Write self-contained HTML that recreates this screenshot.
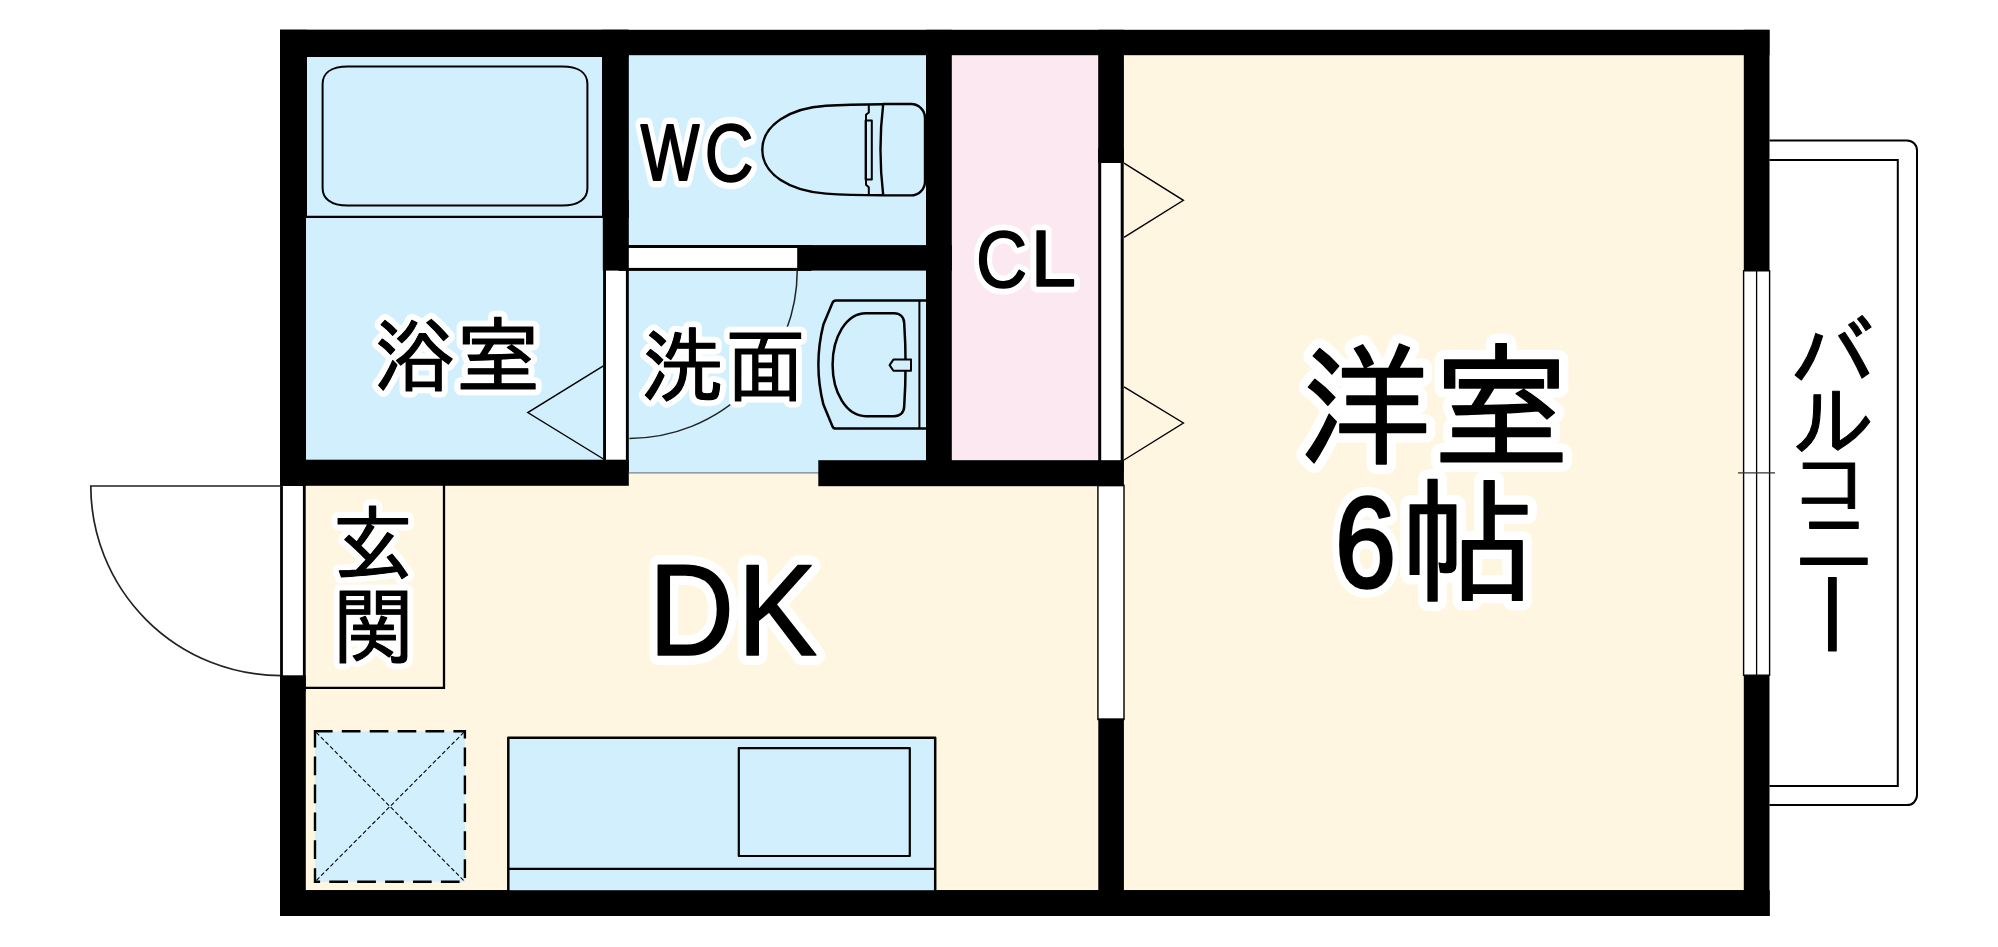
<!DOCTYPE html>
<html lang="ja">
<head>
<meta charset="utf-8">
<title>間取り図</title>
<style>
html,body{margin:0;padding:0;background:#fff;}
body{width:1998px;height:947px;overflow:hidden;}
svg{display:block;}
.t{font-family:"Liberation Sans","IPAGothic",sans-serif;fill:#000;stroke:#fff;stroke-linejoin:round;stroke-linecap:round;paint-order:stroke fill;}
.b{font-family:"Liberation Sans","IPAGothic",sans-serif;fill:#000;stroke:#000;stroke-linejoin:round;}
</style>
</head>
<body>
<svg width="1998" height="947" viewBox="0 0 1998 947">
<rect x="0" y="0" width="1998" height="947" fill="#ffffff"/>

<!-- floors -->
<g id="floors">
  <rect x="300" y="473" width="810" height="425" fill="#fff6e2"/>
  <rect x="1110" y="50" width="640" height="848" fill="#fff6e2"/>
  <rect x="300" y="50" width="310" height="420" fill="#d1effc"/>
  <rect x="620" y="50" width="310" height="423" fill="#d1effc"/>
  <rect x="945" y="50" width="160" height="420" fill="#fbe8f0"/>
  <rect x="628.8" y="472.3" width="190" height="1.2" fill="#6f8088"/>
</g>

<!-- doors / windows -->
<g id="doors" stroke="#000" fill="none">
  <!-- entrance door -->
  <rect x="281.5" y="470" width="22.8" height="220" fill="#fff" stroke-width="2.8"/>
  <path d="M283 486 H90.8 A190.2 189.6 0 0 0 281 675.6" stroke="#222" stroke-width="1.7"/>
  <!-- genkan outline -->
  <path d="M300 687.8 H444 V480" stroke-width="2.3"/>
  <!-- bath door -->
  <rect x="604.55" y="260" width="22.8" height="210" fill="#fff" stroke-width="2.9"/>
  <path d="M603.4 365.8 L527.8 412.6 L603.4 459" stroke-width="1.4"/>
  <!-- WC door -->
  <rect x="620" y="246.5" width="190" height="22.9" fill="#fff" stroke-width="3"/>
  <path d="M797.2 268 A168 168 0 0 1 629.4 438.4" stroke="#222" stroke-width="1.5"/>
  <!-- CL door -->
  <rect x="1099.7" y="150" width="22.5" height="320" fill="#fff" stroke-width="3"/>
  <path d="M1124 163.2 L1183.4 200.3 L1124 237.4" stroke-width="1.4"/>
  <path d="M1124 386.8 L1183.4 423 L1124 460" stroke-width="1.4"/>
  <!-- sliding door DK / room -->
  <rect x="1097.9" y="485.4" width="26.1" height="234" fill="#fff" stroke="#1c1c1c" stroke-width="1.6"/>
  <!-- window -->
  <rect x="1743.6" y="270.8" width="26" height="404.4" fill="#fff" stroke-width="1.4"/>
  <path d="M1756.6 270.8 V675.2" stroke-width="1.3"/>
  <path d="M1738 472.9 H1775" stroke="#333" stroke-width="1.1"/>
  <!-- balcony -->
  <path d="M1769.5 140.4 H1907 A10 10 0 0 1 1917 150.4 V795.1 A10 10 0 0 1 1907 805.1 H1769.5" stroke-width="2"/>
  <path d="M1769.5 159.9 H1897.8 V786.1 H1769.5" stroke-width="2"/>
</g>

<!-- walls -->
<g id="walls" fill="#000">
  <rect x="280" y="29.8" width="1489.5" height="25.4"/>
  <rect x="280" y="29.8" width="348.8" height="27.2"/>
  <rect x="280" y="29.8" width="27" height="188"/>
  <rect x="280" y="200" width="26" height="286"/>
  <rect x="280" y="675.3" width="25.8" height="240.7"/>
  <rect x="280" y="890.2" width="1489.5" height="25.8"/>
  <rect x="1743.8" y="29.8" width="25.7" height="241"/>
  <rect x="1743.8" y="675.2" width="25.7" height="240.8"/>
  <rect x="602" y="29.8" width="26.8" height="188"/>
  <rect x="602.8" y="200" width="26" height="70.6"/>
  <rect x="280" y="459.7" width="348.8" height="26.1"/>
  <rect x="797.2" y="245.1" width="154.6" height="25.5"/>
  <rect x="926" y="29.8" width="25.8" height="456"/>
  <rect x="818.3" y="460.2" width="305.6" height="26"/>
  <rect x="1098.2" y="29.8" width="25.7" height="133.2"/>
  <rect x="1098.3" y="718.5" width="25.6" height="197.5"/>
</g>


<!-- fixtures -->
<g id="fixtures" stroke="#000" fill="none" stroke-linejoin="round">
  <!-- bathtub -->
  <path d="M306 216.8 H603" stroke-width="2.2"/>
  <path d="M348 66.6 H562 C580 66.6 587.4 74 587.4 84 V188 C587.4 198 580 205.6 562 205.6 H348 C330 205.6 322.6 198 322.6 188 V84 C322.6 74 330 66.6 348 66.6 Z" stroke-width="2"/>
  <!-- toilet -->
  <g stroke-width="2.4">
    <path d="M882.6 104.2 C865 104.2 845 104.4 826 105.8 C790 108 762.3 125 762.3 149.7 C762.3 174.4 790 191.4 826 193.6 C845 195 865 195.2 882.6 195.2"/>
    <path d="M883.2 104 H911 A14 14 0 0 1 925 118 V181.4 A14 14 0 0 1 911 195.4 H883.2 C879.6 165 879.6 134 883.2 104 Z"/>
    <path d="M868.8 104 V112.4 L866 114.8 V184.8 L868.8 187.2 V195.4" stroke-width="2"/>
    <rect x="865.6" y="120.6" width="6.2" height="59" stroke-width="2"/>
  </g>
  <!-- wash basin -->
  <g stroke-width="2.5">
    <path d="M926 300.6 H836 Q833.4 300.6 832.4 303 L823.4 324.6 C817 350 817 379 823.4 404.6 L832.4 426.2 Q833.4 428.6 836 428.6 H926"/>
    <path d="M919.4 300.6 V428.6" stroke-width="2"/>
    <path d="M866 313.2 H894 C900 313.2 904 317 904.2 323 C906 350 906 379 904.2 406.4 C904 412.4 900 416.2 894 416.2 H866 C846 416.2 832.6 392 832.6 364.7 C832.6 337.4 846 313.2 866 313.2 Z"/>
    <path d="M889.6 365.1 L893.4 359.6 H911 V370.8 H893.4 Z" fill="#d1effc" stroke-width="2"/>
  </g>
  <!-- kitchen -->
  <rect x="508.3" y="737.7" width="426.9" height="160" fill="#d1effc" stroke-width="2.5"/>
  <path d="M508.3 868.8 H935.2" stroke-width="2.2"/>
  <rect x="738.8" y="748.2" width="171" height="107.8" stroke-width="2.2"/>
  <!-- appliance space -->
  <rect x="315" y="731.2" width="149.9" height="150.6" fill="#d1effc" stroke-width="2.4" stroke-dasharray="18.7 9.2" stroke-dashoffset="1.1" stroke-linejoin="miter"/>
  <path d="M316.2 732.4 L463.8 880.6 M463.8 732.4 L316.2 880.6" stroke-width="1.1" stroke-dasharray="4.2 2.4"/>
</g>
<!-- redraw bottom wall over kitchen -->
<rect x="280" y="890.2" width="1489.5" height="25.8" fill="#000"/>

<!-- labels -->
<g id="halo" class="t" aria-hidden="true">
  <text id="h_yoku" stroke-width="12.8"><tspan x="373.56" y="384.70" font-size="81.43" textLength="82.24" lengthAdjust="spacingAndGlyphs">浴</tspan><tspan x="455.81" y="385.85" font-size="82.94" textLength="85.18" lengthAdjust="spacingAndGlyphs">室</tspan></text>
  <text id="h_sen" stroke-width="12.8"><tspan x="640.62" y="394.60" font-size="80.72" textLength="83.83" lengthAdjust="spacingAndGlyphs">洗</tspan><tspan x="725.74" y="394.80" font-size="81.51" textLength="79.32" lengthAdjust="spacingAndGlyphs">面</tspan></text>
  <text id="h_gen" stroke-width="12.8"><tspan x="332.05" y="574.25" font-size="82.74" textLength="82.00" lengthAdjust="spacingAndGlyphs">玄</tspan><tspan x="332.89" y="657.46" font-size="83.43" textLength="81.28" lengthAdjust="spacingAndGlyphs">関</tspan></text>
  <text id="h_wc" stroke-width="14.5"><tspan x="640.81" y="180.40" font-size="80.00" textLength="58.58" lengthAdjust="spacingAndGlyphs">W</tspan><tspan x="704.60" y="181.43" font-size="82.41" textLength="49.18" lengthAdjust="spacingAndGlyphs">C</tspan></text>
  <text id="h_cl" stroke-width="13.0"><tspan x="976.05" y="286.85" font-size="80.14" textLength="51.23" lengthAdjust="spacingAndGlyphs">C</tspan><tspan x="1030.54" y="286.20" font-size="78.84" textLength="45.57" lengthAdjust="spacingAndGlyphs">L</tspan></text>
  <text id="h_dk" stroke-width="20.0"><tspan x="648.39" y="654.80" font-size="130.58" textLength="85.72" lengthAdjust="spacingAndGlyphs">D</tspan><tspan x="737.29" y="654.80" font-size="130.58" textLength="79.96" lengthAdjust="spacingAndGlyphs">K</tspan></text>
  <text id="h_you" stroke-width="19.8"><tspan x="1298.69" y="454.91" font-size="134.20" textLength="132.95" lengthAdjust="spacingAndGlyphs">洋</tspan><tspan x="1432.11" y="456.78" font-size="136.47" textLength="138.97" lengthAdjust="spacingAndGlyphs">室</tspan></text>
  <text id="h_jo" stroke-width="19.8"><tspan x="1334.92" y="587.27" font-size="127.88" textLength="60.98" lengthAdjust="spacingAndGlyphs">6</tspan><tspan x="1399.85" y="592.45" font-size="135.11" textLength="135.88" lengthAdjust="spacingAndGlyphs">帖</tspan></text>
</g>
<g id="ink" class="b">
  <text id="i_yoku" stroke-width="1.0"><tspan x="373.56" y="384.70" font-size="81.43" textLength="82.24" lengthAdjust="spacingAndGlyphs">浴</tspan><tspan x="455.81" y="385.85" font-size="82.94" textLength="85.18" lengthAdjust="spacingAndGlyphs">室</tspan></text>
  <text id="i_sen" stroke-width="1.0"><tspan x="640.62" y="394.60" font-size="80.72" textLength="83.83" lengthAdjust="spacingAndGlyphs">洗</tspan><tspan x="725.74" y="394.80" font-size="81.51" textLength="79.32" lengthAdjust="spacingAndGlyphs">面</tspan></text>
  <text id="i_gen" stroke-width="1.0"><tspan x="332.05" y="574.25" font-size="82.74" textLength="82.00" lengthAdjust="spacingAndGlyphs">玄</tspan><tspan x="332.89" y="657.46" font-size="83.43" textLength="81.28" lengthAdjust="spacingAndGlyphs">関</tspan></text>
  <text id="i_wc" stroke-width="2.2"><tspan x="640.81" y="180.40" font-size="80.00" textLength="58.58" lengthAdjust="spacingAndGlyphs">W</tspan><tspan x="704.60" y="181.43" font-size="82.41" textLength="49.18" lengthAdjust="spacingAndGlyphs" stroke-width="1.4">C</tspan></text>
  <text id="i_cl" stroke-width="1.6"><tspan x="976.05" y="286.85" font-size="80.14" textLength="51.23" lengthAdjust="spacingAndGlyphs">C</tspan><tspan x="1030.54" y="286.20" font-size="78.84" textLength="45.57" lengthAdjust="spacingAndGlyphs">L</tspan></text>
  <text id="i_dk" stroke-width="1.6"><tspan x="648.39" y="654.80" font-size="130.58" textLength="85.72" lengthAdjust="spacingAndGlyphs">D</tspan><tspan x="737.29" y="654.80" font-size="130.58" textLength="79.96" lengthAdjust="spacingAndGlyphs">K</tspan></text>
  <text id="i_you" stroke-width="1.4"><tspan x="1298.69" y="454.91" font-size="134.20" textLength="132.95" lengthAdjust="spacingAndGlyphs">洋</tspan><tspan x="1432.11" y="456.78" font-size="136.47" textLength="138.97" lengthAdjust="spacingAndGlyphs">室</tspan></text>
  <text id="i_jo" stroke-width="3.4"><tspan x="1334.92" y="587.27" font-size="127.88" textLength="60.98" lengthAdjust="spacingAndGlyphs">6</tspan><tspan x="1399.85" y="592.45" font-size="135.11" textLength="135.88" lengthAdjust="spacingAndGlyphs" stroke-width="1.4">帖</tspan></text>
  <text id="i_bal" stroke-width="1.0" style="writing-mode:vertical-rl"><tspan x="1829.54" y="308.27" font-size="85.52" textLength="89.49" lengthAdjust="spacingAndGlyphs">バ</tspan><tspan x="1830.51" y="377.84" font-size="83.18" textLength="81.98" lengthAdjust="spacingAndGlyphs">ル</tspan><tspan x="1828.12" y="445.53" font-size="81.79" textLength="71.88" lengthAdjust="spacingAndGlyphs">コ</tspan><tspan x="1830.78" y="498.63" font-size="83.90" textLength="83.24" lengthAdjust="spacingAndGlyphs">ニ</tspan><tspan x="1828.91" y="570.56" font-size="97.23" textLength="89.62" lengthAdjust="spacingAndGlyphs">ー</tspan></text>
</g>
</svg>
</body>
</html>
